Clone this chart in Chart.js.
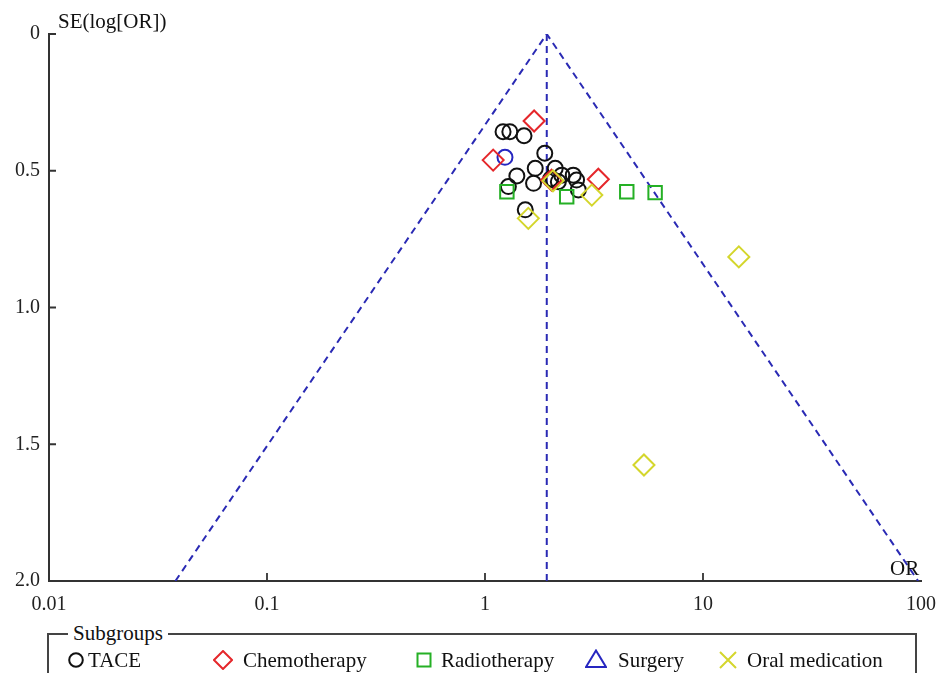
<!DOCTYPE html>
<html>
<head>
<meta charset="utf-8">
<script src="https://cdn.jsdelivr.net/npm/chart.js@4"></script>
<style>
  body { margin: 0; background: #fff; overflow: hidden; font-family: "Liberation Serif", serif; }
  #wrap { position: relative; width: 938px; height: 673px; }
  #legendBox {
    position: absolute; left: 47px; top: 633px; width: 870px; height: 60px;
    border: 2px solid #444; box-sizing: border-box;
  }
  #legendTitle {
    position: absolute; left: 68px; top: 620px; background: #fff; padding: 0 5px;
    font-size: 21px; line-height: 26px; color: #111;
  }
  .item { position: absolute; top: 647px; font-size: 21px; line-height: 26px; color: #111; white-space: nowrap; }
  .marker { position: absolute; }
</style>
</head>
<body>
<div id="wrap">
  <canvas id="chart" width="938" height="673"></canvas>
  <div id="legendBox"></div>
  <div id="legendTitle">Subgroups</div>
  <div id="legendItems"></div>
</div>
<script>
Chart.defaults.font.family = "'Liberation Serif', serif";
Chart.defaults.color = "#222";

// values
const xTickValues = [0.01, 0.1, 1, 10, 100];
const xTickLabels = ["0.01", "0.1", "1", "10", "100"];
const yTickValues = [0, 0.5, 1, 1.5, 2];
const yTickLabels = ["0", "0.5", "1.0", "1.5", "2.0"];

const taceOR = [1.21, 1.30, 1.51, 1.88, 1.70, 1.40, 1.28, 1.67, 2.10, 2.25, 2.54, 2.63, 2.68, 2.17, 2.06, 1.53, 2.0];
const taceSE = [0.357, 0.357, 0.372, 0.436, 0.491, 0.519, 0.558, 0.546, 0.491, 0.516, 0.516, 0.534, 0.570, 0.54, 0.534, 0.643, 0.53];
const chemoOR = [1.68, 1.09, 3.31, 2.02];
const chemoSE = [0.318, 0.461, 0.531, 0.534];
const radioOR = [1.26, 2.37, 4.47, 6.03];
const radioSE = [0.577, 0.595, 0.577, 0.580];
const surgeryOR = [1.235];
const surgerySE = [0.451];
const oralOR = [3.09, 1.58, 14.6, 5.36, 2.05];
const oralSE = [0.589, 0.674, 0.815, 1.576, 0.537];

const funnelOR = [0.038, 1.92, 97];
const funnelSE = [2.0, 0, 2.0];
const pooledOR = [1.92, 1.92];
const pooledSE = [0, 2.0];

const legendNames = ["TACE", "Chemotherapy", "Radiotherapy", "Surgery", "Oral medication"];

const RED = "#e5272b", GREEN = "#25b025", BLUE = "#2626c0", YELLOW = "#d4d62c", BLACK = "#111";

const pts = (xs, ys) => xs.map((x, i) => ({ x, y: ys[i] }));

function markers(data, color, style, radius, order) {
  return {
    type: "scatter",
    data,
    order,
    pointStyle: style,
    pointRadius: radius,
    pointHoverRadius: radius,
    pointBorderWidth: 2,
    pointBorderColor: color,
    pointBackgroundColor: "transparent",
    showLine: false,
  };
}

function dashed(data) {
  return {
    type: "line",
    data,
    order: 10,
    borderColor: "#2a2ab4",
    borderWidth: 2,
    borderDash: [7, 5],
    pointRadius: 0,
    fill: false,
    tension: 0,
  };
}

const extras = {
  id: "extras",
  afterDraw(chart) {
    const { ctx, chartArea: a, scales } = chart;
    ctx.save();
    ctx.strokeStyle = "#333";
    ctx.lineWidth = 1.8;
    ctx.beginPath();
    xTickValues.slice(1, -1).forEach((v) => {
      const px = scales.x.getPixelForValue(v);
      ctx.moveTo(px, a.bottom);
      ctx.lineTo(px, a.bottom - 8);
    });
    yTickValues.slice(0, -1).forEach((v) => {
      const py = scales.y.getPixelForValue(v);
      ctx.moveTo(a.left, py);
      ctx.lineTo(a.left + 7, py);
    });
    ctx.stroke();
    ctx.fillStyle = "#111";
    ctx.font = "21px 'Liberation Serif'";
    ctx.textBaseline = "alphabetic";
    ctx.fillText("SE(log[OR])", a.left + 9, 28);
    ctx.fillText("OR", a.right - 31, a.bottom - 6);
    ctx.restore();
  },
};

new Chart(document.getElementById("chart").getContext("2d"), {
  data: {
    datasets: [
      dashed(pts(funnelOR, funnelSE)),
      dashed(pts(pooledOR, pooledSE)),
      markers(pts(taceOR, taceSE), BLACK, "circle", 7.5, 5),
      markers(pts(surgeryOR, surgerySE), BLUE, "circle", 7.5, 4),
      markers(pts(radioOR, radioSE), GREEN, "rect", 9.5, 3),
      markers(pts(chemoOR, chemoSE), RED, "rectRot", 10.5, 2),
      markers(pts(oralOR, oralSE), YELLOW, "rectRot", 10.5, 1),
    ],
  },
  options: {
    responsive: false,
    animation: false,
    layout: { padding: { top: 34, right: 17, left: 0, bottom: 0 } },
    plugins: { legend: { display: false }, tooltip: { enabled: false } },
    scales: {
      x: {
        type: "logarithmic",
        min: 0.01,
        max: 100,
        afterBuildTicks: (scale) => {
          scale.ticks = xTickValues.map((value) => ({ value }));
        },
        afterFit: (scale) => {
          scale.height = 92;
          scale.paddingLeft = 0;
          scale.paddingRight = 0;
        },
        grid: { display: false, drawTicks: false, tickLength: 0 },
        border: { display: true, color: "#333", width: 2 },
        ticks: {
          padding: 12,
          maxRotation: 0,
          font: { size: 20 },
          callback: (value) => xTickLabels[xTickValues.indexOf(value)],
        },
      },
      y: {
        type: "linear",
        reverse: true,
        min: 0,
        max: 2,
        afterBuildTicks: (scale) => {
          scale.ticks = yTickValues.map((value) => ({ value }));
        },
        afterFit: (scale) => {
          scale.width = 49;
          scale.paddingTop = 0;
          scale.paddingBottom = 0;
        },
        grid: { display: false, drawTicks: false, tickLength: 0 },
        border: { display: true, color: "#333", width: 2 },
        ticks: {
          padding: 9,
          font: { size: 20 },
          callback: (value) => yTickLabels[yTickValues.indexOf(value)],
        },
      },
    },
  },
  plugins: [extras],
});

// legend row
const legendLayout = [
  { mark: 68, text: 88, w: 16, color: BLACK, shape: '<circle cx="8" cy="8" r="6.8"/>' },
  { mark: 213, text: 243, w: 20, color: RED, shape: '<polygon points="10,1 19,10 10,19 1,10"/>' },
  { mark: 416, text: 441, w: 16, color: GREEN, shape: '<rect x="1.5" y="1.5" width="13" height="13"/>' },
  { mark: 585, text: 618, w: 22, color: BLUE, shape: '<polygon points="11,1.5 21,18 1,18"/>' },
  { mark: 718, text: 747, w: 20, color: YELLOW, shape: '<path d="M2,2 L18,18 M18,2 L2,18"/>' },
];
const holder = document.getElementById("legendItems");
legendNames.forEach((name, i) => {
  const l = legendLayout[i];
  const svg = document.createElement("div");
  svg.className = "marker";
  svg.style.left = l.mark + "px";
  svg.style.top = 660 - l.w / 2 + "px";
  svg.innerHTML =
    '<svg width="' + l.w + '" height="' + l.w + '" fill="none" stroke="' + l.color +
    '" stroke-width="2">' + l.shape + "</svg>";
  holder.appendChild(svg);
  const el = document.createElement("div");
  el.className = "item";
  el.style.left = l.text + "px";
  el.textContent = name;
  holder.appendChild(el);
});
</script>
</body>
</html>
